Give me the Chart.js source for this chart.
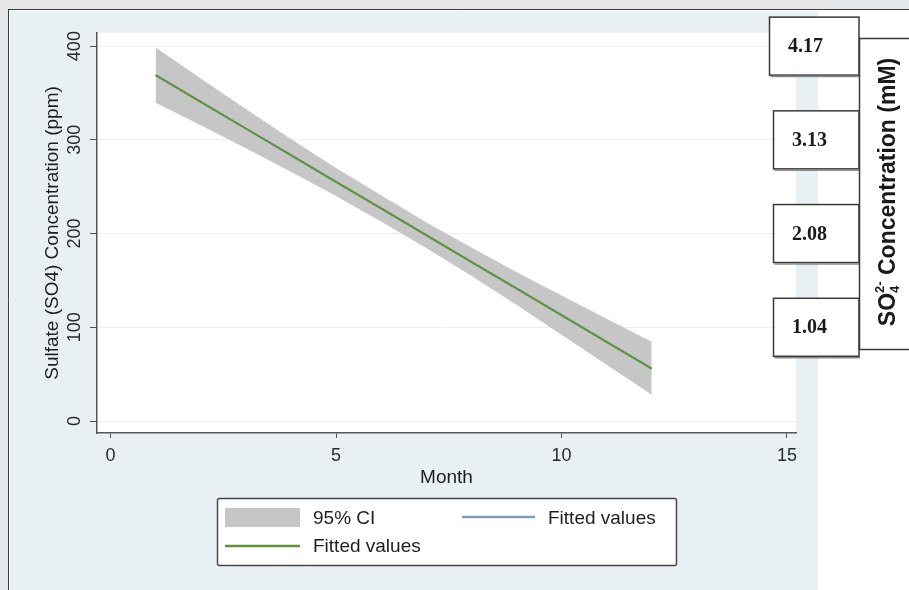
<!DOCTYPE html>
<html>
<head>
<meta charset="utf-8">
<title>Sulfate concentration by month</title>
<script src="https://cdn.jsdelivr.net/npm/chart.js@4.4.0/dist/chart.umd.min.js"></script>
<style>
  html, body { margin: 0; padding: 0; background: #ffffff; }
  #wrap { position: relative; width: 909px; height: 590px; }
</style>
</head>
<body>
<div id="wrap"><canvas id="sulfateChart" width="909" height="590"></canvas></div>
<script>
// values
const months = [1, 2, 3, 4, 5, 6, 7, 8, 9, 10, 11, 12];
const fittedValues = [369, 340.6, 312.1, 283.7, 255.2, 226.8, 198.3, 169.9, 141.4, 113, 84.5, 56];
const ciUpper = [398.5, 365.5, 333, 301, 270, 241, 212, 185, 159, 134, 109, 84.5];
const ciLower = [339.5, 315.5, 291, 266, 240, 213, 184.5, 155, 124, 92, 60, 28];
const xTicks = [0, 5, 10, 15];
const yTicks = [0, 100, 200, 300, 400];
const mMLevels = [400, 300, 200, 100];
const mMLabels = ['4.17', '3.13', '2.08', '1.04'];

const SANS = "'Liberation Sans', Arial, sans-serif";
const SERIF = "'Liberation Serif', 'Times New Roman', serif";

const toPoints = vals => months.map((m, i) => ({ x: m, y: vals[i] }));

// page, graph region and plot region backgrounds
const backdrop = {
  id: 'backdrop',
  beforeDraw(chart) {
    const { ctx, chartArea } = chart;
    ctx.save();
    ctx.fillStyle = '#ffffff';
    ctx.fillRect(0, 0, chart.width, chart.height);
    ctx.fillStyle = '#e4e6e7';
    ctx.fillRect(0, 0, chart.width, 9);
    ctx.fillRect(0, 0, 8, chart.height);
    ctx.strokeStyle = '#3c3c3c';
    ctx.lineWidth = 1;
    ctx.beginPath();
    ctx.moveTo(8.5, 9);
    ctx.lineTo(8.5, chart.height);
    ctx.moveTo(8, 9.5);
    ctx.lineTo(chart.width, 9.5);
    ctx.stroke();
    ctx.fillStyle = '#e8f0f3';
    ctx.fillRect(10, 11, 808, chart.height - 11);
    ctx.fillStyle = '#ffffff';
    ctx.fillRect(chartArea.left, chartArea.top, chartArea.right - chartArea.left, chartArea.bottom - chartArea.top);
    ctx.restore();
  }
};

// legend box, mM boxes and the secondary title
const extras = {
  id: 'extras',
  afterDraw(chart) {
    const { ctx } = chart;
    const ds = chart.data.datasets;
    const yScale = chart.scales.y;
    ctx.save();

    // legend
    ctx.fillStyle = '#ffffff';
    ctx.strokeStyle = '#4a4a4a';
    ctx.lineWidth = 1.5;
    ctx.beginPath();
    ctx.roundRect(217.5, 498.5, 459, 67, 2);
    ctx.fill();
    ctx.stroke();

    ctx.font = '19px ' + SANS;
    ctx.fillStyle = '#1e1e1e';
    ctx.textBaseline = 'middle';
    ctx.textAlign = 'left';

    ctx.fillStyle = ds[0].backgroundColor;
    ctx.fillRect(225, 508, 75, 19);
    ctx.fillStyle = '#1e1e1e';
    ctx.fillText(ds[0].label, 313, 519);

    ctx.lineWidth = 2.5;
    ctx.strokeStyle = ds[2].borderColor;
    ctx.beginPath();
    ctx.moveTo(462, 517);
    ctx.lineTo(535, 517);
    ctx.stroke();
    ctx.fillText(ds[2].label, 548, 519);

    ctx.strokeStyle = ds[3].borderColor;
    ctx.beginPath();
    ctx.moveTo(225, 546);
    ctx.lineTo(300, 546);
    ctx.stroke();
    ctx.fillText(ds[3].label, 313, 547);

    // mM boxes placed on the ppm scale
    mMLevels.forEach((ppm, i) => {
      const cy = yScale.getPixelForValue(ppm);
      const left = i === 0 ? 769.5 : 773.5;
      ctx.fillStyle = '#ffffff';
      ctx.strokeStyle = '#3a3a3a';
      ctx.lineWidth = 1.5;
      ctx.fillRect(left, cy - 29, 859 - left, 58);
      ctx.strokeRect(left, cy - 29, 859 - left, 58);
      ctx.beginPath();
      ctx.moveTo(left + 1, cy + 30.5);
      ctx.lineTo(860, cy + 30.5);
      ctx.strokeStyle = '#8a8a8a';
      ctx.stroke();
      ctx.fillStyle = '#1a1a1a';
      ctx.font = 'bold 20px ' + SERIF;
      ctx.textBaseline = 'middle';
      ctx.fillText(mMLabels[i], i === 0 ? 788 : 792, cy + 1);
    });

    // SO4 2- title box
    ctx.fillStyle = '#ffffff';
    ctx.strokeStyle = '#3a3a3a';
    ctx.lineWidth = 1.5;
    ctx.fillRect(859.5, 38.5, 60, 311);
    ctx.strokeRect(859.5, 38.5, 60, 311);

    ctx.translate(887, 192);
    ctx.rotate(-Math.PI / 2);
    const big = 'bold 23px ' + SANS;
    const small = 'bold 13px ' + SANS;
    ctx.font = big;
    const wSO = ctx.measureText('SO').width;
    const wRest = ctx.measureText(' Concentration (mM)').width;
    ctx.font = small;
    const wSub = Math.max(ctx.measureText('4').width, ctx.measureText('2-').width);
    let x = -(wSO + wSub + wRest) / 2;
    ctx.fillStyle = '#1a1a1a';
    ctx.textBaseline = 'alphabetic';
    ctx.font = big;
    ctx.fillText('SO', x, 8);
    x += wSO;
    ctx.font = small;
    ctx.fillText('4', x, 12);
    ctx.fillText('2-', x, -3);
    x += wSub;
    ctx.font = big;
    ctx.fillText(' Concentration (mM)', x, 8);

    ctx.restore();
  }
};

const ctx = document.getElementById('sulfateChart').getContext('2d');
const chart = new Chart(ctx, {
  type: 'line',
  data: {
    datasets: [
      {
        label: '95% CI',
        data: toPoints(ciUpper),
        borderWidth: 0,
        pointRadius: 0,
        backgroundColor: '#c6c6c6',
        fill: '+1',
        order: 3
      },
      {
        label: '95% CI lower',
        data: toPoints(ciLower),
        borderWidth: 0,
        pointRadius: 0,
        fill: false,
        order: 4
      },
      {
        label: 'Fitted values',
        data: toPoints(fittedValues),
        borderColor: '#7e9dc0',
        borderWidth: 2,
        pointRadius: 0,
        fill: false,
        order: 2
      },
      {
        label: 'Fitted values',
        data: toPoints(fittedValues),
        borderColor: '#5f9538',
        borderWidth: 2,
        pointRadius: 0,
        fill: false,
        order: 1
      }
    ]
  },
  options: {
    responsive: false,
    animation: false,
    layout: { padding: { left: 10, top: 33, right: 113, bottom: 101 } },
    plugins: {
      legend: { display: false },
      tooltip: { enabled: false }
    },
    scales: {
      x: {
        type: 'linear',
        min: -0.3,
        max: 15.2,
        afterBuildTicks: s => { s.ticks = xTicks.map(v => ({ value: v })); },
        afterFit: s => { s.height = 56; },
        ticks: { font: { size: 18, family: SANS }, color: '#2a2a2a', padding: 7, maxRotation: 0 },
        grid: { drawOnChartArea: false, tickLength: 5, tickColor: '#555555', tickWidth: 1 },
        border: { color: '#555555', width: 1.5 },
        title: {
          display: true,
          text: 'Month',
          font: { size: 19, family: SANS },
          color: '#1e1e1e',
          padding: { top: 1, bottom: 0 }
        }
      },
      y: {
        type: 'linear',
        min: -12.8,
        max: 414,
        afterBuildTicks: s => { s.ticks = yTicks.map(v => ({ value: v })); },
        afterFit: s => { s.width = 87; },
        ticks: {
          font: { size: 18, family: SANS },
          color: '#2a2a2a',
          minRotation: 90,
          maxRotation: 90,
          crossAlign: 'center',
          padding: 0
        },
        grid: { color: '#e9eff2', tickLength: 7, tickColor: '#555555', tickWidth: 1 },
        border: { color: '#555555', width: 1.5 },
        title: {
          display: true,
          text: 'Sulfate (SO4) Concentration (ppm)',
          font: { size: 19, family: SANS },
          color: '#1e1e1e',
          padding: { top: 31, bottom: 0 }
        }
      }
    }
  },
  plugins: [backdrop, extras]
});
</script>
</body>
</html>
